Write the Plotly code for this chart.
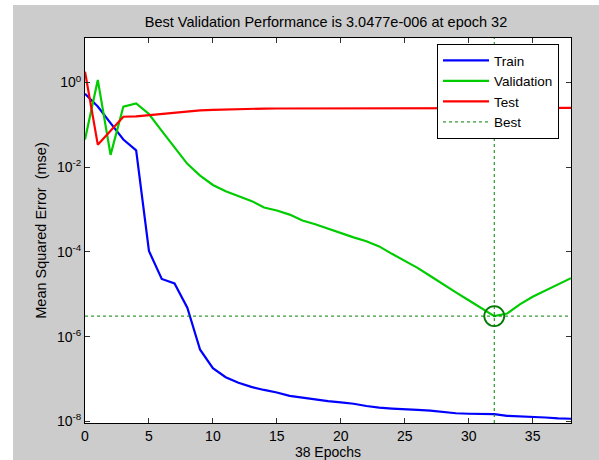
import plotly.graph_objects as go

# ---- data ----
epochs = list(range(0, 39))

train_mse = [0.54, 0.27, 0.11, 0.045, 0.025, 1.05e-4, 2.3e-5, 1.8e-5, 4.8e-6, 4.9e-7,
             1.8e-7, 1.1e-7, 8.1e-8, 6.5e-8, 5.5e-8, 4.8e-8, 4.0e-8, 3.6e-8, 3.2e-8, 3.0e-8,
             2.8e-8, 2.6e-8, 2.3e-8, 2.1e-8, 2.0e-8, 1.95e-8, 1.86e-8, 1.78e-8, 1.66e-8, 1.55e-8,
             1.51e-8, 1.48e-8, 1.47e-8, 1.35e-8, 1.32e-8, 1.29e-8, 1.23e-8, 1.17e-8, 1.15e-8]

valid_mse = [0.045, 1.15, 0.0195, 0.27, 0.32, 0.18, 0.072, 0.030, 0.012, 6.3e-3,
             3.8e-3, 2.7e-3, 2.1e-3, 1.6e-3, 1.12e-3, 9.5e-4, 7.6e-4, 5.5e-4, 4.5e-4, 3.5e-4,
             2.75e-4, 2.2e-4, 1.78e-4, 1.35e-4, 9.0e-5, 6.2e-5, 4.2e-5, 2.7e-5, 1.77e-5, 1.11e-5,
             7.2e-6, 4.65e-6, 3.0477e-6, 3.5e-6, 5.75e-6, 8.7e-6, 1.23e-5, 1.7e-5, 2.4e-5]

test_mse = [1.8, 0.034, 0.072, 0.155, 0.158, 0.17, 0.18, 0.195, 0.21, 0.22,
            0.226, 0.232, 0.237, 0.24, 0.242, 0.243, 0.243, 0.244, 0.244, 0.245,
            0.245, 0.246, 0.246, 0.246, 0.247, 0.247, 0.247, 0.248, 0.248, 0.248,
            0.248, 0.249, 0.249, 0.249, 0.249, 0.25, 0.25, 0.25, 0.25]

best_epoch = 32
best_perf = 3.0477e-6

x_ticks = [0, 5, 10, 15, 20, 25, 30, 35]
y_ticks = [1e-8, 1e-6, 1e-4, 1e-2, 1e0]
y_ticktext = ["10<sup>-8</sup>", "10<sup>-6</sup>", "10<sup>-4</sup>", "10<sup>-2</sup>", "10<sup>0</sup>"]

x_range = [0, 38]
y_log_range = [-8.04, 1.05]

# ---- layout constants ----
W, H = 599, 460
ML, MR, MT, MB = 85, 28, 38, 37
PW, PH = W - ML - MR, H - MT - MB
FONT = "Liberation Sans, Arial, sans-serif"
GRAY = "#cccccc"

def px_x(p):
    return (p - ML) / PW

def px_y(p):
    return (H - MB - p) / PH

fig = go.Figure()

fig.add_trace(go.Scatter(x=epochs, y=train_mse, mode="lines", name="Train",
                         line=dict(color="#0000ff", width=2.2)))
fig.add_trace(go.Scatter(x=epochs, y=valid_mse, mode="lines", name="Validation",
                         line=dict(color="#00cc00", width=2.2)))
fig.add_trace(go.Scatter(x=epochs, y=test_mse, mode="lines", name="Test",
                         line=dict(color="#ff0000", width=2.2)))

y_lo, y_hi = 10 ** y_log_range[0], 10 ** y_log_range[1]
fig.add_trace(go.Scatter(
    x=[x_range[0], x_range[1], None, best_epoch, best_epoch],
    y=[best_perf, best_perf, None, y_lo, y_hi],
    mode="lines", name="Best", connectgaps=False,
    line=dict(color="#008000", width=1, dash="3px,3px")))
fig.add_trace(go.Scatter(
    x=[best_epoch], y=[best_perf], mode="markers", showlegend=False,
    marker=dict(symbol="circle-open", size=20, color="#007a00",
                line=dict(color="#007a00", width=1.8))))

shapes = [
    dict(type="rect", xref="paper", yref="paper",
         x0=px_x(0), x1=px_x(13), y0=px_y(H), y1=px_y(0),
         fillcolor="white", line=dict(width=0), layer="below"),
    dict(type="rect", xref="paper", yref="paper",
         x0=px_x(0), x1=px_x(W), y0=px_y(5), y1=px_y(0),
         fillcolor="white", line=dict(width=0), layer="below"),
]

fig.update_layout(
    width=W, height=H, autosize=False,
    margin=dict(l=ML, r=MR, t=MT, b=MB, pad=0, autoexpand=False),
    paper_bgcolor=GRAY, plot_bgcolor="white",
    font=dict(family=FONT, size=14, color="black"),
    title=dict(text="Best Validation Performance is 3.0477e-006 at epoch 32",
               x=px_x(326), xref="paper", xanchor="center",
               y=1 - 22 / H, yanchor="middle", font=dict(size=14.5)),
    showlegend=True,
    legend=dict(x=px_x(437), y=px_y(44), xanchor="left", yanchor="top",
                bgcolor="white", bordercolor="black", borderwidth=1,
                font=dict(size=13.5), itemwidth=46, tracegroupgap=0),
    shapes=shapes,
    xaxis=dict(range=x_range, tickvals=x_ticks, ticks="inside", ticklen=5,
               tickcolor="#333333", showline=True, linecolor="black", linewidth=1,
               mirror="ticks", showgrid=False, zeroline=False, automargin=False,
               tickfont=dict(size=14),
               title=dict(text="38 Epochs", font=dict(size=14), standoff=4)),
    yaxis=dict(type="log", range=y_log_range, tickvals=y_ticks, ticktext=y_ticktext,
               ticks="inside", ticklen=5, tickcolor="#333333", showline=True,
               linecolor="black", linewidth=1, mirror="ticks", showgrid=False,
               zeroline=False, automargin=False, tickfont=dict(size=14),
               title=dict(text="Mean Squared Error  (mse)", font=dict(size=14.5), standoff=6)),
)

fig.write_html("out.html", config={"displayModeBar": False},
               post_script="document.body.style.margin='0';document.body.style.overflow='hidden';")
